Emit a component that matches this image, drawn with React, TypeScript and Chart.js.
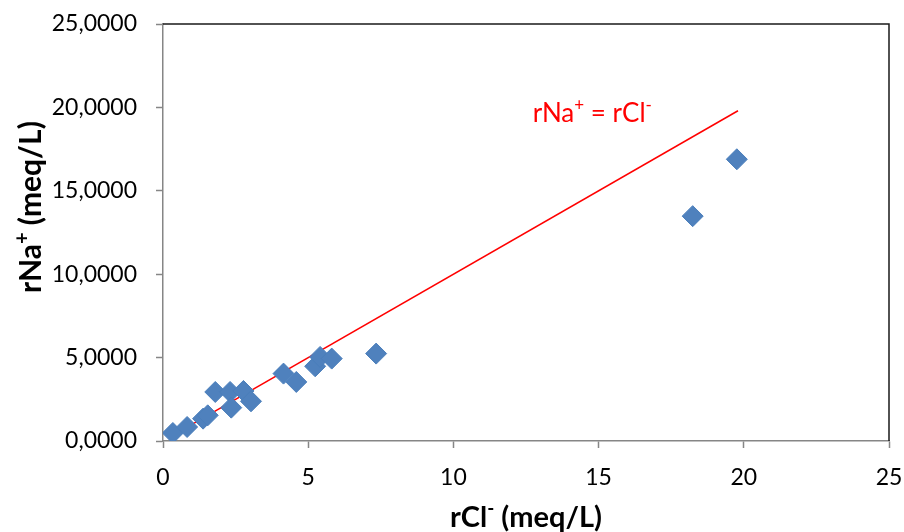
import React, { useEffect, useRef } from "react";
import { Chart, registerables } from "chart.js";

Chart.register(...registerables);

// rCl- (meq/L) and rNa+ (meq/L) of each sample
const clValues = [0.34, 0.83, 1.38, 1.54, 1.8, 2.31, 2.35, 2.77, 3.03, 4.15, 4.59, 5.24, 5.41, 5.81, 7.34, 18.24, 19.76];
const naValues = [0.48, 0.84, 1.34, 1.54, 2.94, 2.94, 2.0, 3.0, 2.38, 4.04, 3.54, 4.48, 5.04, 4.94, 5.24, 13.48, 16.89];

// 1:1 reference line rNa+ = rCl-
const lineX = [0.34, 19.8];
const lineY = [0.34, 19.8];

const xTicks = [0, 5, 10, 15, 20, 25];
const yTicks = [0, 5, 10, 15, 20, 25];

type Part = { t: string; sup?: boolean };
const xTitle: Part[] = [{ t: "rCl" }, { t: "-", sup: true }, { t: " (meq/L)" }];
const yTitle: Part[] = [{ t: "rNa" }, { t: "+", sup: true }, { t: " (meq/L)" }];
const lineLabel: Part[] = [{ t: "rNa" }, { t: "+", sup: true }, { t: " = rCl" }, { t: "-", sup: true }];
const lineLabelAt = { x: 12.73, y: 19.14 };

const FAMILY = "Lato, 'Open Sans', sans-serif";

function drawRich(
  ctx: CanvasRenderingContext2D,
  parts: Part[],
  x: number,
  y: number,
  size: number,
  weight: string,
  color: string,
  align: "left" | "center"
) {
  const font = (p: Part) => `${weight} ${p.sup ? Math.round(size * 0.65) : size}px ${FAMILY}`;
  const widths = parts.map((p) => {
    ctx.font = font(p);
    return ctx.measureText(p.t).width;
  });
  const total = widths.reduce((a, b) => a + b, 0);
  let cx = align === "center" ? x - total / 2 : x;
  ctx.fillStyle = color;
  ctx.textAlign = "left";
  ctx.textBaseline = "alphabetic";
  parts.forEach((p, i) => {
    ctx.font = font(p);
    ctx.fillText(p.t, cx, p.sup ? y - size * 0.4 : y);
    cx += widths[i];
  });
}

const decorPlugin = {
  id: "decor",
  afterDraw(chart: any) {
    const ctx: CanvasRenderingContext2D = chart.ctx;
    const { left, right, top, bottom } = chart.chartArea;
    ctx.save();
    // plot frame top & right
    ctx.strokeStyle = "#1a1a1a";
    ctx.lineWidth = 1.5;
    ctx.beginPath();
    ctx.moveTo(left, top);
    ctx.lineTo(right, top);
    ctx.lineTo(right, bottom);
    ctx.stroke();
    // x title
    drawRich(ctx, xTitle, (left + right) / 2, 527, 29, "bold", "#000", "center");
    // y title
    ctx.save();
    ctx.translate(41, 207);
    ctx.rotate(-Math.PI / 2);
    drawRich(ctx, yTitle, 0, 0, 30, "bold", "#000", "center");
    ctx.restore();
    // line label
    const xs = chart.scales.x;
    const ys = chart.scales.y;
    drawRich(ctx, lineLabel, xs.getPixelForValue(lineLabelAt.x), ys.getPixelForValue(lineLabelAt.y), 26, "normal", "#ff0000", "left");
    ctx.restore();
  },
};

export default function App() {
  const ref = useRef<HTMLCanvasElement | null>(null);
  useEffect(() => {
    document.body.style.margin = "0";
    const canvas = ref.current!;
    const chart = new Chart(canvas, {
      type: "scatter",
      data: {
        datasets: [
          {
            label: "line",
            data: lineX.map((x, i) => ({ x, y: lineY[i] })),
            showLine: true,
            borderColor: "#ff0000",
            borderWidth: 1.5,
            pointRadius: 0,
            order: 1,
          } as any,
          {
            label: "samples",
            data: clValues.map((x, i) => ({ x, y: naValues[i] })),
            pointStyle: "rectRot",
            pointRadius: 10.5,
            backgroundColor: "#4F81BD",
            borderColor: "#4A7EBB",
            borderWidth: 1,
            order: 0,
          },
        ],
      },
      options: {
        responsive: false,
        animation: false,
        devicePixelRatio: 1,
        layout: { padding: { top: 24, right: 15, left: 0, bottom: 0 } },
        plugins: { legend: { display: false }, tooltip: { enabled: false } },
        scales: {
          x: {
            type: "linear",
            min: 0,
            max: 25,
            afterBuildTicks: (s: any) => {
              s.ticks = xTicks.map((v) => ({ value: v }));
            },
            afterFit: (s: any) => {
              s.height = 91;
              s.paddingLeft = 0;
              s.paddingRight = 0;
            },
            ticks: {
              color: "#000",
              font: { family: FAMILY, size: 23 },
              padding: 16,
              maxRotation: 0,
            },
            grid: { drawOnChartArea: false, tickLength: 7, color: "#868686", tickWidth: 1.5 },
            border: { color: "#868686", width: 1.5 },
          },
          y: {
            type: "linear",
            min: 0,
            max: 25,
            afterBuildTicks: (s: any) => {
              s.ticks = yTicks.map((v) => ({ value: v }));
            },
            afterFit: (s: any) => {
              s.width = 163;
              s.paddingTop = 0;
              s.paddingBottom = 0;
            },
            ticks: {
              color: "#000",
              font: { family: FAMILY, size: 23 },
              padding: 19,
              callback: (v: any) => Number(v).toFixed(4).replace(".", ","),
            },
            grid: { drawOnChartArea: false, tickLength: 7, color: "#868686", tickWidth: 1.5 },
            border: { color: "#868686", width: 1.5 },
          },
        },
      },
      plugins: [decorPlugin],
    });
    return () => chart.destroy();
  }, []);
  return (
    <div style={{ width: 904, height: 532, background: "#fff" }}>
      <canvas ref={ref} width={904} height={532} style={{ display: "block" }} />
    </div>
  );
}
